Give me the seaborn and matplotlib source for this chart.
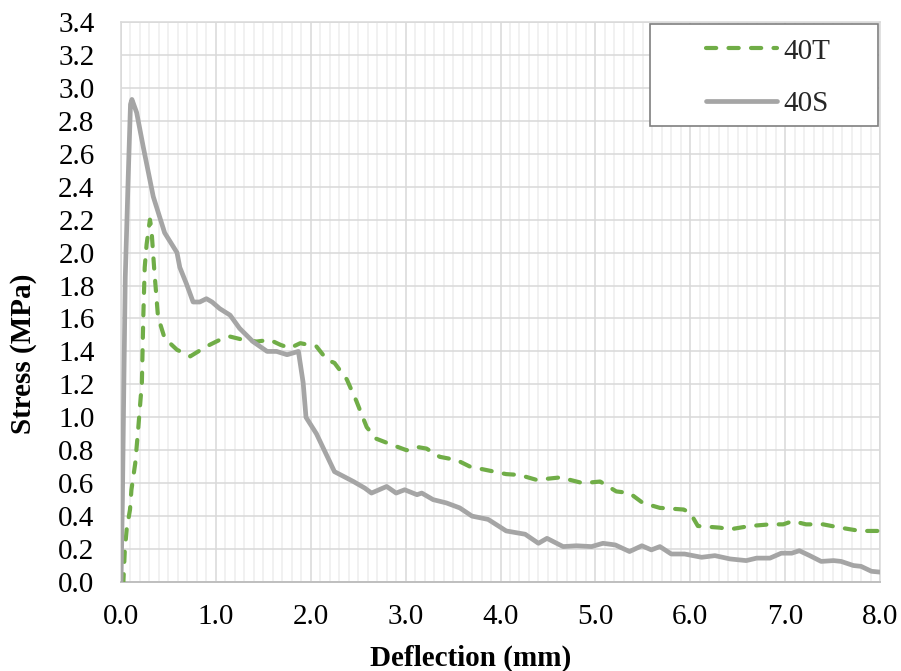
import matplotlib
matplotlib.use("Agg")
import matplotlib.pyplot as plt
from matplotlib.ticker import MultipleLocator, FormatStrFormatter
from matplotlib.patches import Rectangle
import seaborn as sns
import pandas as pd

# Load-deflection response of the two 40 mm specimens
deflection_40T = [0.00, 0.025, 0.04, 0.06, 0.095, 0.11, 0.15, 0.18, 0.22, 0.235, 0.25, 0.27,
                  0.305, 0.32, 0.35, 0.39, 0.46, 0.59, 0.73, 0.90, 1.04, 1.15, 1.29, 1.43,
                  1.57, 1.68, 1.78, 1.89, 2.06, 2.17, 2.25, 2.38, 2.48, 2.59, 2.69, 2.87,
                  3.01, 3.12, 3.22, 3.36, 3.54, 3.68, 3.85, 4.06, 4.20, 4.38, 4.63, 4.87,
                  5.05, 5.22, 5.36, 5.50, 5.68, 5.93, 6.00, 6.08, 6.31, 6.42, 6.63, 6.84,
                  6.98, 7.08, 7.22, 7.40, 7.58, 7.79, 8.00]
stress_40T = [0.00, 0.00, 0.19, 0.32, 0.44, 0.56, 0.72, 0.92, 1.21, 1.61, 1.91, 2.05,
              2.20, 2.15, 1.90, 1.61, 1.48, 1.41, 1.37, 1.43, 1.47, 1.49, 1.47, 1.46,
              1.47, 1.44, 1.42, 1.45, 1.43, 1.35, 1.33, 1.23, 1.10, 0.94, 0.87, 0.83,
              0.80, 0.82, 0.81, 0.76, 0.74, 0.70, 0.68, 0.655, 0.65, 0.62, 0.635, 0.60,
              0.61, 0.55, 0.54, 0.48, 0.45, 0.44, 0.42, 0.34, 0.33, 0.32, 0.34, 0.35,
              0.35, 0.37, 0.35, 0.35, 0.33, 0.31, 0.31]

deflection_40S = [0.00, 0.015, 0.03, 0.045, 0.075, 0.10, 0.115, 0.165, 0.235, 0.34, 0.46,
                  0.59, 0.62, 0.69, 0.76, 0.83, 0.90, 0.96, 1.04, 1.15, 1.25, 1.39, 1.54,
                  1.64, 1.75, 1.87, 1.92, 1.95, 2.06, 2.25, 2.45, 2.57, 2.64, 2.80, 2.90,
                  2.99, 3.12, 3.17, 3.29, 3.43, 3.57, 3.70, 3.87, 4.06, 4.26, 4.40, 4.49,
                  4.66, 4.80, 4.96, 5.08, 5.21, 5.36, 5.49, 5.59, 5.68, 5.80, 5.94, 6.12,
                  6.26, 6.42, 6.59, 6.70, 6.84, 6.96, 7.07, 7.15, 7.26, 7.38, 7.51, 7.59,
                  7.72, 7.80, 7.91, 8.00]
stress_40S = [0.00, 0.50, 1.20, 1.85, 2.44, 2.90, 2.93, 2.85, 2.64, 2.34, 2.12,
              2.00, 1.91, 1.81, 1.70, 1.70, 1.72, 1.70, 1.66, 1.62, 1.54, 1.46, 1.40,
              1.40, 1.38, 1.40, 1.21, 1.00, 0.90, 0.67, 0.61, 0.57, 0.54, 0.58, 0.54,
              0.56, 0.53, 0.54, 0.50, 0.48, 0.45, 0.40, 0.38, 0.31, 0.29, 0.235, 0.265,
              0.215, 0.22, 0.215, 0.235, 0.225, 0.185, 0.22, 0.195, 0.215, 0.17, 0.17, 0.15,
              0.16, 0.14, 0.13, 0.145, 0.145, 0.175, 0.175, 0.19, 0.16, 0.125, 0.13, 0.125,
              0.10, 0.095, 0.065, 0.06]

series_names = ["40T", "40S"]
series_colors = ["#70AD47", "#A5A5A5"]

sns.set_theme(style="white")
plt.rcParams["font.family"] = ["Liberation Serif", "DejaVu Serif"]

FS = 21

fig = plt.figure(figsize=(9.01, 6.71), dpi=100)
ax = fig.add_axes([121 / 901, 1 - 582 / 671, 759 / 901, 560 / 671])

df_t = pd.DataFrame({"Deflection": deflection_40T, "Stress": stress_40T})
df_s = pd.DataFrame({"Deflection": deflection_40S, "Stress": stress_40S})

sns.lineplot(data=df_t, x="Deflection", y="Stress", ax=ax, sort=False, estimator=None,
             color=series_colors[0], linewidth=3.0, linestyle=(0, (2.45, 2.95)),
             dash_capstyle="round", dash_joinstyle="round", label=series_names[0],
             legend=False, zorder=3)
sns.lineplot(data=df_s, x="Deflection", y="Stress", ax=ax, sort=False, estimator=None,
             color=series_colors[1], linewidth=3.4, solid_capstyle="round",
             solid_joinstyle="round", label=series_names[1], legend=False, zorder=3)

ax.set_xlim(0, 8)
ax.set_ylim(0, 3.4)
ax.xaxis.set_major_locator(MultipleLocator(1.0))
ax.xaxis.set_minor_locator(MultipleLocator(0.1))
ax.yaxis.set_major_locator(MultipleLocator(0.2))
ax.xaxis.set_major_formatter(FormatStrFormatter("%.1f"))
ax.yaxis.set_major_formatter(FormatStrFormatter("%.1f"))

ax.grid(which="major", axis="both", color="#D9D9D9", linewidth=1.1, zorder=0)
ax.grid(which="minor", axis="x", color="#F0F0F0", linewidth=1.3, zorder=0)
ax.set_axisbelow(True)

ax.tick_params(which="both", length=0)
ax.tick_params(axis="y", labelsize=FS, pad=19, colors="black")
ax.tick_params(axis="x", labelsize=FS, pad=16, colors="black")

for side in ["left", "top", "right"]:
    ax.spines[side].set_color("#D9D9D9")
    ax.spines[side].set_linewidth(1.1)
ax.spines["bottom"].set_color("#BFBFBF")
ax.spines["bottom"].set_linewidth(1.4)

ax.set_xlabel("Deflection (mm)", fontsize=FS, fontweight="bold", color="black")
ax.set_ylabel("Stress (MPa)", fontsize=FS, fontweight="bold", color="black")
ax.xaxis.set_label_coords(0.46, -0.112)
ax.yaxis.set_label_coords(-0.1107, 0.407)

# legend box with the entries centred inside it
ax.add_patch(Rectangle((0.697, 0.814), 0.300, 0.182, transform=ax.transAxes,
                       facecolor="white", edgecolor="#7F7F7F", linewidth=1.2,
                       zorder=4, clip_on=False))
leg = ax.legend(loc="upper left", bbox_to_anchor=(0.771, 0.971), frameon=False,
                fontsize=FS, handlelength=2.43, handletextpad=0.2, labelspacing=0.89,
                borderpad=0, borderaxespad=0)
leg.set_zorder(5)

fig.savefig("out.png", dpi=100, facecolor="white")
